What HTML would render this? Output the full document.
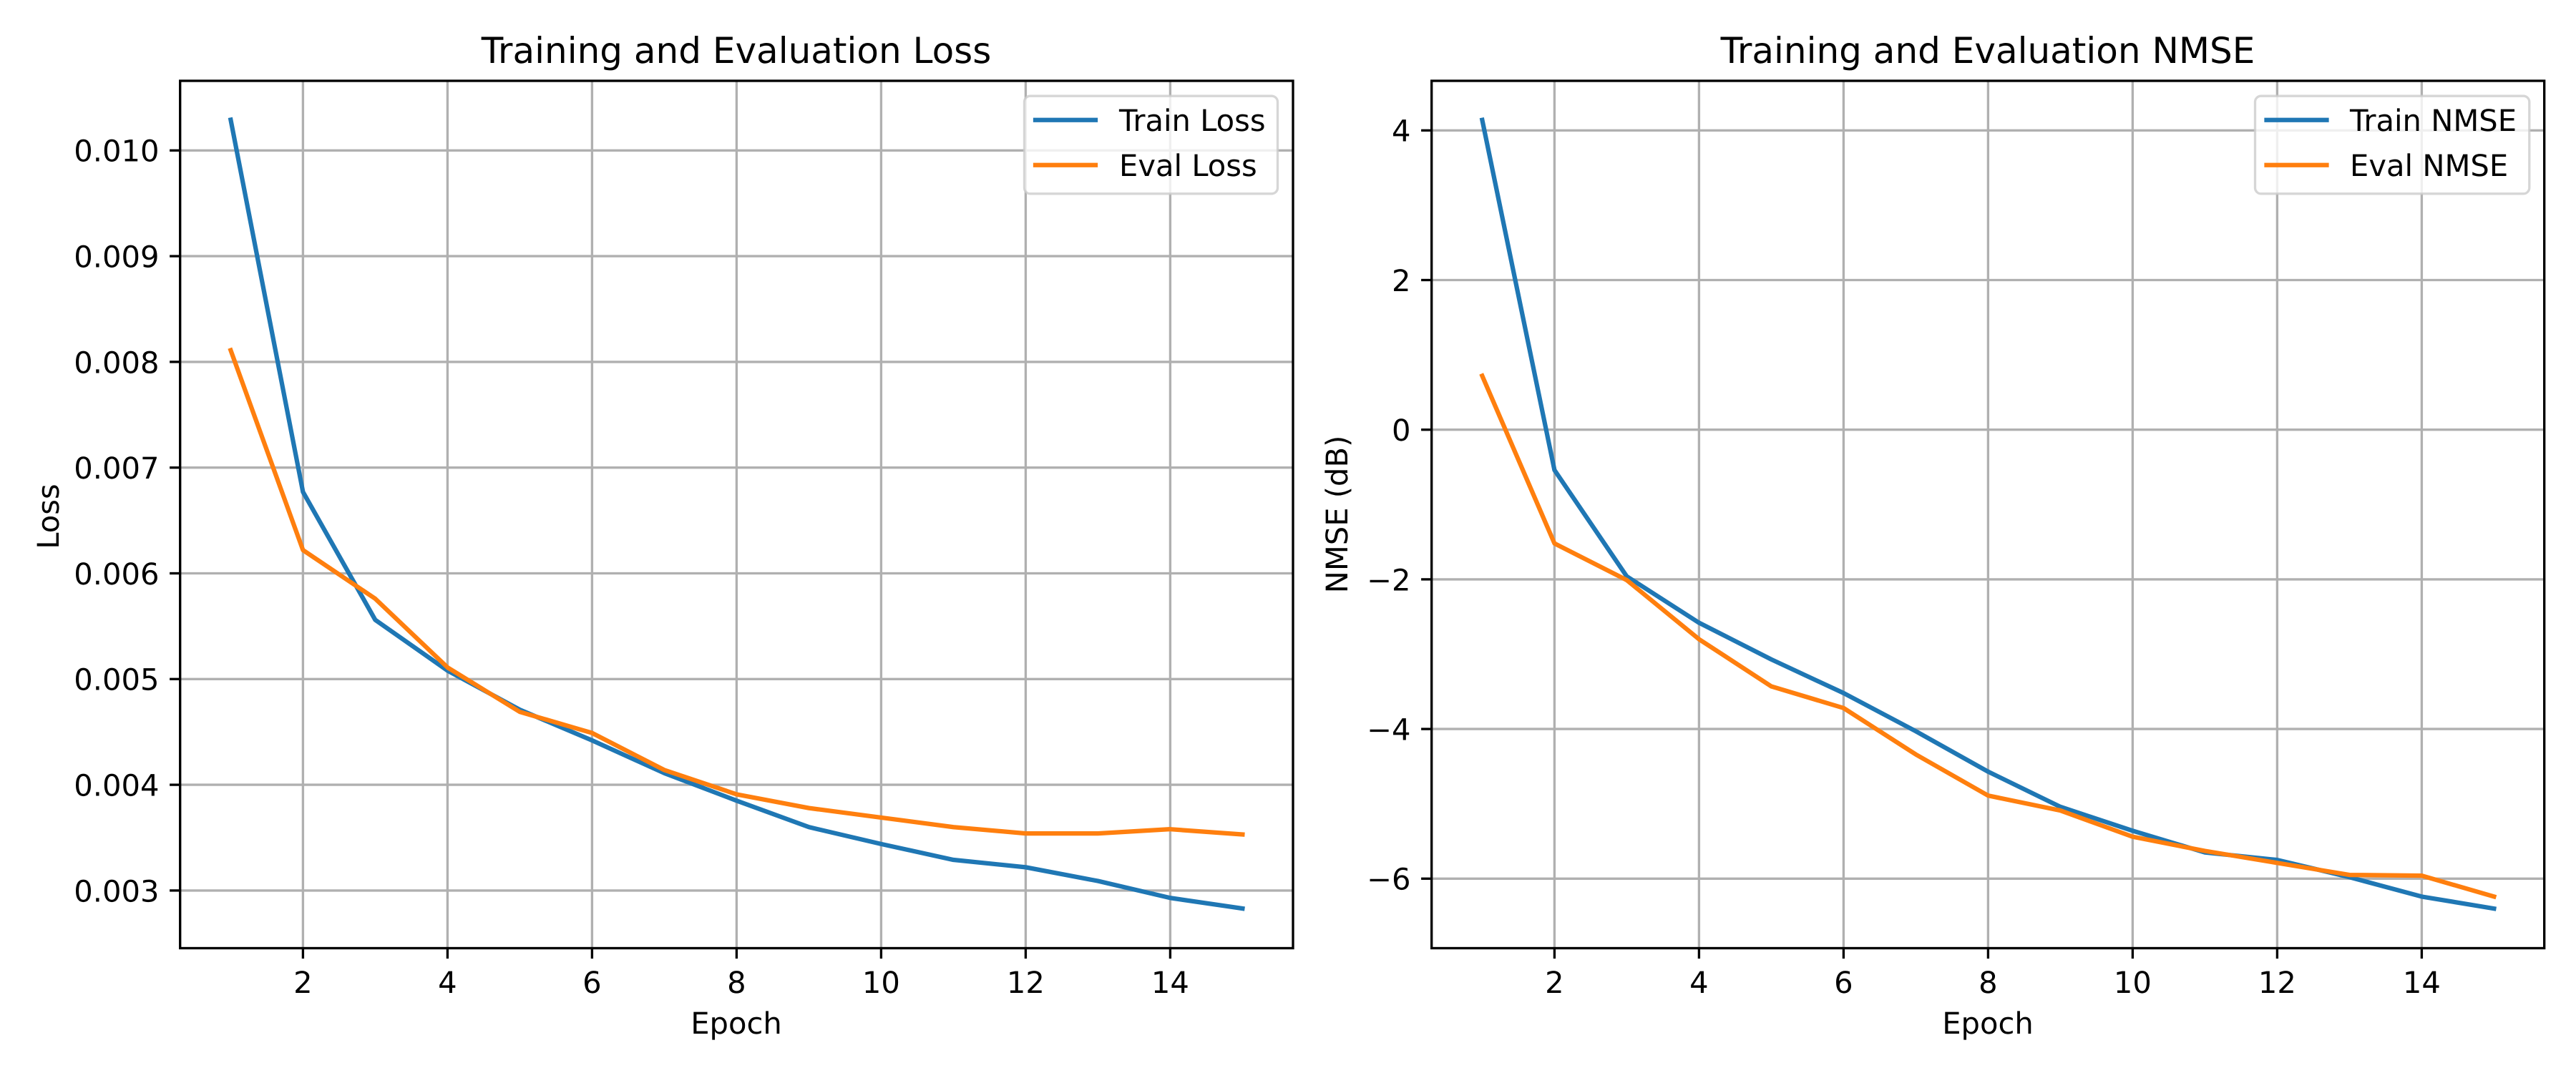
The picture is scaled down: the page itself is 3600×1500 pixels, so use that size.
<!DOCTYPE html>
<html lang="en">
<head>
<meta charset="utf-8">
<title>Training and Evaluation Loss and NMSE</title>
<style>
html,body{margin:0;padding:0;background:#fff;width:3600px;height:1500px;overflow:hidden}
svg{display:block}
text{font-family:"DejaVu Sans","Liberation Sans",sans-serif;fill:#000;text-rendering:geometricPrecision}
.tick-text{font-size:41.67px}
.title-text{font-size:50px}
</style>
</head>
<body>
<svg id="figure" xmlns="http://www.w3.org/2000/svg" width="3600" height="1500" viewBox="0 0 3600 1500">
  <rect x="0" y="0" width="3600" height="1500" fill="#ffffff"/>

  <g id="panel-loss">
    <g id="loss-grid"></g>
    <g id="loss-lines"></g>
    <rect x="251.7" y="113" width="1555.3" height="1212.5" fill="none" stroke="#000" stroke-width="3.33" stroke-linejoin="miter"/>
    <g id="loss-ticks"></g>
    <text class="title-text" x="1029" y="88" text-anchor="middle">Training and Evaluation Loss</text>
    <text class="tick-text" x="1029" y="1445" text-anchor="middle">Epoch</text>
    <text class="tick-text" transform="translate(82 722) rotate(-90)" text-anchor="middle">Loss</text>
    <g>
      <rect x="1431.5" y="134.2" width="354" height="136.6" rx="8.3" ry="8.3" fill="#fff" fill-opacity="0.8" stroke="#ccc" stroke-opacity="0.8" stroke-width="3.33"/>
      <line x1="1447" y1="167.7" x2="1531" y2="167.7" stroke="#1f77b4" stroke-width="6.25" stroke-linecap="square"/>
      <text class="tick-text" x="1564" y="183">Train Loss</text>
      <line x1="1447" y1="230.7" x2="1531" y2="230.7" stroke="#ff7f0e" stroke-width="6.25" stroke-linecap="square"/>
      <text class="tick-text" x="1564" y="246">Eval Loss</text>
    </g>
  </g>

  <g id="panel-nmse">
    <g id="nmse-grid"></g>
    <g id="nmse-lines"></g>
    <rect x="2000.7" y="113" width="1555" height="1212.5" fill="none" stroke="#000" stroke-width="3.33" stroke-linejoin="miter"/>
    <g id="nmse-ticks"></g>
    <text class="title-text" x="2778" y="88" text-anchor="middle">Training and Evaluation NMSE</text>
    <text class="tick-text" x="2778" y="1445" text-anchor="middle">Epoch</text>
    <text class="tick-text" transform="translate(1883 719) rotate(-90)" text-anchor="middle">NMSE (dB)</text>
    <g>
      <rect x="3151.5" y="134.2" width="383.3" height="136.6" rx="8.3" ry="8.3" fill="#fff" fill-opacity="0.8" stroke="#ccc" stroke-opacity="0.8" stroke-width="3.33"/>
      <line x1="3167.5" y1="167.7" x2="3251.5" y2="167.7" stroke="#1f77b4" stroke-width="6.25" stroke-linecap="square"/>
      <text class="tick-text" x="3284" y="183">Train NMSE</text>
      <line x1="3167.5" y1="230.7" x2="3251.5" y2="230.7" stroke="#ff7f0e" stroke-width="6.25" stroke-linecap="square"/>
      <text class="tick-text" x="3284" y="246">Eval NMSE</text>
    </g>
  </g>
</svg>

<script>
const epochs = [1, 2, 3, 4, 5, 6, 7, 8, 9, 10, 11, 12, 13, 14, 15];
const trainLoss = [0.01029, 0.00677, 0.00556, 0.00508, 0.00471, 0.00442, 0.00411, 0.00385, 0.0036, 0.00344, 0.00329, 0.00322, 0.00309, 0.00293, 0.00283];
const evalLoss = [0.00811, 0.00622, 0.00576, 0.00511, 0.00469, 0.00449, 0.00414, 0.00391, 0.00378, 0.00369, 0.0036, 0.00354, 0.00354, 0.00358, 0.00353];
const trainNmse = [4.14, -0.54, -1.96, -2.58, -3.07, -3.52, -4.03, -4.57, -5.04, -5.36, -5.65, -5.75, -5.98, -6.24, -6.4];
const evalNmse = [0.72, -1.52, -2.01, -2.8, -3.43, -3.72, -4.34, -4.89, -5.09, -5.44, -5.63, -5.79, -5.95, -5.96, -6.24];
const xTickValues = [2, 4, 6, 8, 10, 12, 14];
const xTickLabels = ['2', '4', '6', '8', '10', '12', '14'];
const lossTickValues = [0.003, 0.004, 0.005, 0.006, 0.007, 0.008, 0.009, 0.01];
const lossTickLabels = ['0.003', '0.004', '0.005', '0.006', '0.007', '0.008', '0.009', '0.010'];
const nmseTickValues = [-6, -4, -2, 0, 2, 4];
const nmseTickLabels = ['\u22126', '\u22124', '\u22122', '0', '2', '4'];

const SVG_NS = 'http://www.w3.org/2000/svg';
const EPOCH_MIN = 0.3;
const PX_PER_EPOCH = 101;
const TOP = 113;
const BOTTOM = 1325.5;
const TICK_LEN = 14.6;
const AXIS_SPEC_LOSS = { left: 251.7, right: 1807, anchor: 0.01, anchorY: 210.3, pxPerUnit: 147800 };
const AXIS_SPEC_NMSE = { left: 2000.7, right: 3555.7, anchor: 4, anchorY: 182.3, pxPerUnit: 104.6 };

function xScale(spec, epoch) {
  return spec.left + (epoch - EPOCH_MIN) * PX_PER_EPOCH;
}

function yScale(spec, value) {
  return spec.anchorY + (spec.anchor - value) * spec.pxPerUnit;
}

function makeLine(x1, y1, x2, y2, stroke) {
  const line = document.createElementNS(SVG_NS, 'line');
  line.setAttribute('x1', x1);
  line.setAttribute('y1', y1);
  line.setAttribute('x2', x2);
  line.setAttribute('y2', y2);
  line.setAttribute('stroke', stroke);
  line.setAttribute('stroke-width', '3.33');
  return line;
}

function makeLabel(x, y, anchor, content) {
  const label = document.createElementNS(SVG_NS, 'text');
  label.setAttribute('class', 'tick-text');
  label.setAttribute('x', x);
  label.setAttribute('y', y);
  label.setAttribute('text-anchor', anchor);
  label.textContent = content;
  return label;
}

function drawAxes(prefix, spec, yValues, yLabels) {
  const grid = document.getElementById(prefix + '-grid');
  const ticks = document.getElementById(prefix + '-ticks');

  xTickValues.forEach(function (value, i) {
    const x = xScale(spec, value);

    const gridLine = makeLine(x, TOP, x, BOTTOM, '#b0b0b0');
    
    
    grid.appendChild(gridLine);

    const tick = makeLine(x, BOTTOM, x, BOTTOM + TICK_LEN, '#000');
    
    
    ticks.appendChild(tick);

    const label = makeLabel(x, 1388, 'middle', xTickLabels[i]);
    
    
    ticks.appendChild(label);
  });

  yValues.forEach(function (value, i) {
    const y = yScale(spec, value);

    const gridLine = makeLine(spec.left, y, spec.right, y, '#b0b0b0');
    
    
    grid.appendChild(gridLine);

    const tick = makeLine(spec.left - TICK_LEN, y, spec.left, y, '#000');
    
    
    ticks.appendChild(tick);

    const label = makeLabel(spec.left - 29.2, y + 15.4, 'end', yLabels[i]);
    
    
    ticks.appendChild(label);
  });
}

function drawSeries(prefix, spec, values, color, seriesName) {
  const points = values.map(function (value, i) {
    return xScale(spec, epochs[i]).toFixed(2) + ',' + yScale(spec, value).toFixed(2);
  }).join(' ');
  const line = document.createElementNS(SVG_NS, 'polyline');
  line.setAttribute('points', points);
  line.setAttribute('fill', 'none');
  line.setAttribute('stroke', color);
  line.setAttribute('stroke-width', '6.25');
  line.setAttribute('stroke-linecap', 'square');
  line.setAttribute('stroke-linejoin', 'round');
  
  
  document.getElementById(prefix + '-lines').appendChild(line);
}

drawAxes('loss', AXIS_SPEC_LOSS, lossTickValues, lossTickLabels);
drawSeries('loss', AXIS_SPEC_LOSS, trainLoss, '#1f77b4', 'train-loss-line');
drawSeries('loss', AXIS_SPEC_LOSS, evalLoss, '#ff7f0e', 'eval-loss-line');

drawAxes('nmse', AXIS_SPEC_NMSE, nmseTickValues, nmseTickLabels);
drawSeries('nmse', AXIS_SPEC_NMSE, trainNmse, '#1f77b4', 'train-nmse-line');
drawSeries('nmse', AXIS_SPEC_NMSE, evalNmse, '#ff7f0e', 'eval-nmse-line');
</script>
</body>
</html>
